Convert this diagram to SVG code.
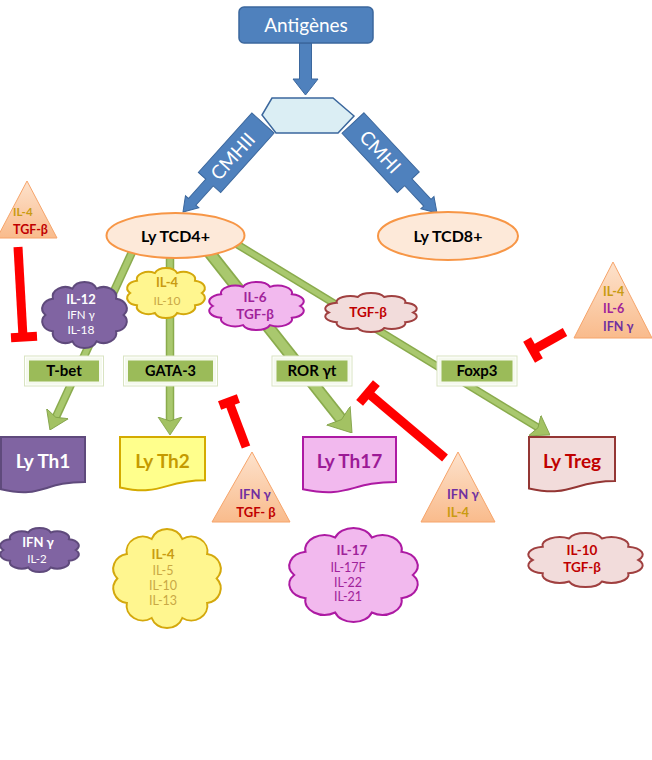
<svg xmlns="http://www.w3.org/2000/svg" width="652" height="760" viewBox="0 0 652 760">
<defs>
<style>
text{font-family:Lato,'Noto Sans','DejaVu Sans',sans-serif;text-anchor:middle}
.b{font-weight:bold}
.cl{vector-effect:non-scaling-stroke;stroke-width:2}
.blue{fill:#4f81bd;stroke:#3b679d;stroke-width:1}
.ell{fill:#fde9d9;stroke:#f79646;stroke-width:2}
.gbox{fill:#9bbb59;stroke:#f5f9ee;stroke-width:3}
.gframe{fill:#ffffff;stroke:#d9e4c2;stroke-width:1}
.gl1{stroke:#8aab4d;fill:none}
.gl2{stroke:#a9c86e;fill:none}
.inh{stroke:#ff0000;stroke-width:9;fill:none}
.tri{fill:url(#tg);stroke:#f6a46a;stroke-width:1}
.cp{fill:#8064a2;stroke:#5f4a7c}
.cy{fill:#fff68f;stroke:#d4a80c}
.ck{fill:#f2b9ee;stroke:#ad1aa3}
.cr{fill:#f2dcdb;stroke:#a04040}
.w{fill:#ffffff}
.gold{fill:#c99b12}
.gold2{fill:#c9a845}
.pur{fill:#7030a0}
.mag{fill:#a0229a}
.red{fill:#c00000}
</style>
<linearGradient id="tg" x1="0" y1="0" x2="0" y2="1">
<stop offset="0" stop-color="#fde2cc"/>
<stop offset="1" stop-color="#f9bb8c"/>
</linearGradient>
<path id="cloud" class="cl" d="M96,50 A15,15 0 0 1 87.2,74.7 A15,15 0 0 1 64.2,89.9 A15,15 0 0 1 35.8,89.9 A15,15 0 0 1 12.8,74.7 A15,15 0 0 1 4,50 A15,15 0 0 1 12.8,25.3 A15,15 0 0 1 35.8,10.1 A15,15 0 0 1 64.2,10.1 A15,15 0 0 1 87.2,25.3 A15,15 0 0 1 96,50 Z"/>
<marker id="gh" markerUnits="userSpaceOnUse" markerWidth="18" markerHeight="26" viewBox="0 0 18 26" refX="5" refY="13" orient="auto">
<path d="M0,1 L18,13 L0,25 L4,13 Z" fill="#a3c263" stroke="#7f9f45" stroke-width="0.8"/>
</marker>
<marker id="ghb" markerUnits="userSpaceOnUse" markerWidth="22" markerHeight="32" viewBox="0 0 22 32" refX="6" refY="16" orient="auto">
<path d="M0,1 L22,16 L0,31 L5,16 Z" fill="#a3c263" stroke="#7f9f45" stroke-width="0.8"/>
</marker>
</defs>

<g id="connectors">
<g id="cmh-arrows">
<path class="blue" transform="translate(263,123) rotate(131.95)" d="M0,-15 L80,-15 L80,-5 L106,-5 L106,-9 L119.7,0 L106,9 L106,5 L80,5 L80,15 L0,15 Z"/>
<path class="blue" transform="translate(353,123) rotate(46.97)" d="M0,-15 L81,-15 L81,-5 L109,-5 L109,-9 L123.1,0 L109,9 L109,5 L81,5 L81,15 L0,15 Z"/>
<text class="w" font-size="19" transform="translate(233,156.5) rotate(-48.05)" y="6.5">CMHII</text>
<text class="w" font-size="19" transform="translate(380,152) rotate(46.97)" y="6.5">CMHI</text>
<path class="blue" d="M299.5,43 H311.5 V79 H318 L305.5,95 L293,79 H299.5 Z"/>
</g>
<g id="green-arrows">
<line class="gl1" stroke-width="8.5" x1="133" y1="250" x2="55.4" y2="418.2"/>
<line class="gl2" stroke-width="5.5" x1="133" y1="250" x2="55.4" y2="418.2" marker-end="url(#gh)"/>
<line class="gl1" stroke-width="8.5" x1="170" y1="250" x2="170" y2="422"/>
<line class="gl2" stroke-width="5.5" x1="170" y1="250" x2="170" y2="422" marker-end="url(#gh)"/>
<line class="gl1" stroke-width="12.5" x1="207.5" y1="250" x2="342.1" y2="420.4"/>
<line class="gl2" stroke-width="9" x1="207.5" y1="250" x2="342.1" y2="420.4" marker-end="url(#ghb)"/>
<line class="gl1" stroke-width="8" x1="230" y1="240" x2="538.9" y2="428.2"/>
<line class="gl2" stroke-width="5" x1="230" y1="240" x2="538.9" y2="428.2" marker-end="url(#gh)"/>
</g>
</g>

<g id="hexagon">
<polygon points="272,98 333,98 354,116 338,133 276,133 262,115" fill="#dbeef4" stroke="#3b679d" stroke-width="1.5"/>
</g>

<g id="antigenes">
<rect x="239" y="7" width="134" height="36" rx="5" fill="#4f81bd" stroke="#3b679d" stroke-width="1.5"/>
<text class="w" font-size="19" x="306" y="32">Antigènes</text>
</g>

<g id="tcd4">
<ellipse class="ell" cx="175.5" cy="235.5" rx="69" ry="22.5"/>
<text class="b" font-size="16" x="175.5" y="241.5">Ly TCD4+</text>
</g>
<g id="tcd8">
<ellipse class="ell" cx="448" cy="236" rx="70" ry="24"/>
<text class="b" font-size="16" x="448" y="242">Ly TCD8+</text>
</g>

<g id="cloud-il12">
<use href="#cloud" class="cp" transform="translate(42,282) scale(0.85,0.66)"/>
<text class="w b" font-size="13" x="81" y="304">IL-12</text>
<text class="w" font-size="11.5" x="81" y="319">IFN γ</text>
<text class="w" font-size="12" x="81" y="334">IL-18</text>
</g>
<g id="cloud-il4">
<use href="#cloud" class="cy" transform="translate(127,268) scale(0.78,0.5)"/>
<text class="gold b" font-size="13" x="167" y="287">IL-4</text>
<text class="gold2" font-size="12" x="167" y="305">IL-10</text>
</g>
<g id="cloud-il6">
<use href="#cloud" class="ck" transform="translate(209,282) scale(0.95,0.48)"/>
<text class="mag b" font-size="13.5" x="255" y="302">IL-6</text>
<text class="mag b" font-size="13.5" x="255" y="319">TGF-β</text>
</g>
<g id="cloud-tgf">
<use href="#cloud" class="cr" transform="translate(325,293) scale(0.92,0.39)"/>
<text class="red b" font-size="13.5" x="368" y="317">TGF-β</text>
</g>

<g id="tbet">
<rect class="gframe" x="24.5" y="356" width="79" height="30"/>
<rect class="gbox" x="27.5" y="359" width="73" height="24"/>
<text class="b" font-size="15" x="64" y="376">T-bet</text>
</g>
<g id="gata3">
<rect class="gframe" x="123.5" y="356" width="94" height="30"/>
<rect class="gbox" x="126.5" y="359" width="88" height="24"/>
<text class="b" font-size="14.5" x="170.5" y="376">GATA-3</text>
</g>
<g id="rorgt">
<rect class="gframe" x="272" y="356" width="80" height="30"/>
<rect class="gbox" x="275" y="359" width="74" height="24"/>
<text class="b" font-size="15" x="312" y="376">ROR γt</text>
</g>
<g id="foxp3">
<rect class="gframe" x="437" y="356" width="80" height="30"/>
<rect class="gbox" x="440" y="359" width="74" height="24"/>
<text class="b" font-size="15" x="477" y="376">Foxp3</text>
</g>

<g id="th1">
<path d="M1,437 H85 V481.9 C42.5,481.9 42.5,499 1,489.3 Z" fill="#8064a2" stroke="#5f4a7c" stroke-width="2"/>
<text class="w b" font-size="19" x="43" y="467.5">Ly Th1</text>
</g>
<g id="th2">
<path d="M120,437 H205 V480.3 C162.5,480.3 162.5,496.8 120,487.4 Z" fill="#ffff8c" stroke="#d4aa00" stroke-width="2"/>
<text class="b" font-size="19" x="162.5" y="467.5" fill="#c59a00">Ly Th2</text>
</g>
<g id="th17">
<path d="M303,437 H396 V481.9 C349.5,481.9 349.5,499 303,489.3 Z" fill="#f2b9ee" stroke="#ad1aa3" stroke-width="2"/>
<text class="b" font-size="19" x="349.5" y="467.5" fill="#9c1a96">Ly Th17</text>
</g>
<g id="treg">
<path d="M529,437 H615 V481.1 C572,481.1 572,497.9 529,488.4 Z" fill="#f2dcdb" stroke="#943634" stroke-width="2"/>
<text class="red b" font-size="19" x="572" y="467.5">Ly Treg</text>
</g>

<g id="cloud-ifn-il2">
<use href="#cloud" class="cp" transform="translate(0,528) scale(0.79,0.44)"/>
<text class="w b" font-size="13" x="38" y="547">IFN γ</text>
<text class="w" font-size="11.5" x="37" y="563">IL-2</text>
</g>
<g id="cloud-th2-out">
<use href="#cloud" class="cy" transform="translate(113,529) scale(1.08,0.99)"/>
<text class="gold b" font-size="13.5" x="163" y="559">IL-4</text>
<text class="gold2" font-size="12.5" x="163" y="575">IL-5</text>
<text class="gold2" font-size="12.5" x="163" y="590">IL-10</text>
<text class="gold2" font-size="12.5" x="163" y="605">IL-13</text>
</g>
<g id="cloud-th17-out">
<use href="#cloud" class="ck" transform="translate(289,528) scale(1.29,0.94)"/>
<text class="mag b" font-size="13.5" x="352" y="555">IL-17</text>
<text class="mag" font-size="12.5" x="348" y="572">IL-17F</text>
<text class="mag" font-size="12.5" x="348" y="587">IL-22</text>
<text class="mag" font-size="12.5" x="348" y="601">IL-21</text>
</g>
<g id="cloud-treg-out">
<use href="#cloud" class="cr" transform="translate(528,533) scale(1.15,0.54)"/>
<text class="red b" font-size="13.5" x="582" y="555">IL-10</text>
<text class="red b" font-size="13.5" x="582" y="572">TGF-β</text>
</g>

<g id="inhibitors">
<line class="inh" stroke-width="8" x1="18" y1="247" x2="23" y2="337"/>
<line class="inh" x1="11" y1="337.7" x2="37" y2="336.3"/>
<line class="inh" stroke-width="8" x1="246" y1="447" x2="229" y2="402"/>
<line class="inh" x1="238.4" y1="398.5" x2="219.6" y2="405.5"/>
<line class="inh" stroke-width="10" x1="445" y1="458" x2="368" y2="393"/>
<line class="inh" stroke-width="10" x1="376.4" y1="383.1" x2="359.6" y2="402.9"/>
<line class="inh" stroke-width="8" x1="565" y1="332" x2="533" y2="350"/>
<line class="inh" x1="538.9" y1="360.5" x2="527.1" y2="339.5"/>
</g>

<g id="tri-il4-tgf">
<polygon class="tri" points="27,181 57,238 -3,238"/>
<text class="gold b" font-size="11.5" x="13" y="216" style="text-anchor:start">IL-4</text>
<text class="red b" font-size="12.5" x="13" y="234" style="text-anchor:start">TGF-β</text>
</g>
<g id="tri-ifn-tgf">
<polygon class="tri" points="252,452 290,522 212,522"/>
<text class="pur b" font-size="13" x="255" y="499">IFN γ</text>
<text class="red b" font-size="13" x="256" y="517">TGF- β</text>
</g>
<g id="tri-ifn-il4">
<polygon class="tri" points="458,452 495,522 421,522"/>
<text class="pur b" font-size="13" x="447" y="499" style="text-anchor:start">IFN γ</text>
<text class="gold b" font-size="13" x="447" y="517" style="text-anchor:start">IL-4</text>
</g>
<g id="tri-il4-il6-ifn">
<polygon class="tri" points="613,262 652,338 574,338"/>
<text class="gold b" font-size="12.5" x="603" y="296" style="text-anchor:start">IL-4</text>
<text class="mag b" font-size="12.5" x="603" y="313" style="text-anchor:start">IL-6</text>
<text class="pur b" font-size="12.5" x="603" y="331" style="text-anchor:start">IFN γ</text>
</g>
</svg>
